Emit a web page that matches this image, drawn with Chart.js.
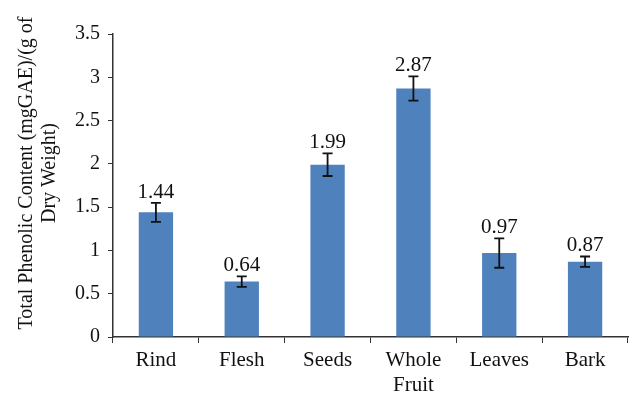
<!DOCTYPE html>
<html>
<head>
<meta charset="utf-8">
<script src="https://cdn.jsdelivr.net/npm/chart.js"></script>
<style>
  html, body { margin: 0; padding: 0; background: #fff; }
  #wrap { width: 643px; height: 401px; }
</style>
</head>
<body>
<div id="wrap"><canvas id="grafico"></canvas></div>
<script>
// dados
const categorias = ['Rind', 'Flesh', 'Seeds', ['Whole', 'Fruit'], 'Leaves', 'Bark'];
const valores = [1.44, 0.64, 1.99, 2.87, 0.97, 0.87];
const erros = [0.11, 0.06, 0.13, 0.14, 0.17, 0.06];
const rotulos = ['1.44', '0.64', '1.99', '2.87', '0.97', '0.87'];
const tituloY = ['Total Phenolic Content (mgGAE)/(g of', 'Dry Weight)'];
const eixoY = { min: 0, max: 3.5, passo: 0.5 };

const serif = "'Liberation Serif', 'DejaVu Serif', serif";

// barras de erro + valores acima
const errosPlugin = {
  id: 'errosPlugin',
  afterDatasetsDraw(chart) {
    const ctx = chart.ctx;
    const meta = chart.getDatasetMeta(0);
    const y = chart.scales.y;
    ctx.save();
    ctx.strokeStyle = '#111';
    ctx.lineWidth = 1.8;
    meta.data.forEach((bar, i) => {
      const topo = y.getPixelForValue(valores[i] + erros[i]);
      const base = y.getPixelForValue(valores[i] - erros[i]);
      ctx.beginPath();
      ctx.moveTo(bar.x, topo); ctx.lineTo(bar.x, base);
      ctx.moveTo(bar.x - 5, topo); ctx.lineTo(bar.x + 5, topo);
      ctx.moveTo(bar.x - 5, base); ctx.lineTo(bar.x + 5, base);
      ctx.stroke();
      ctx.fillStyle = '#111';
      ctx.font = '21px ' + serif;
      ctx.textAlign = 'center';
      ctx.textBaseline = 'alphabetic';
      ctx.fillText(rotulos[i], bar.x, topo - 5);
    });
    ctx.restore();
  }
};

// título do eixo Y em duas linhas
const tituloPlugin = {
  id: 'tituloPlugin',
  afterDraw(chart) {
    const ctx = chart.ctx;
    ctx.save();
    ctx.translate(0, 173);
    ctx.rotate(-Math.PI / 2);
    ctx.fillStyle = '#111';
    ctx.font = '20px ' + serif;
    ctx.textAlign = 'center';
    ctx.textBaseline = 'middle';
    tituloY.forEach((linha, i) => ctx.fillText(linha, 0, 27 + i * 23));
    ctx.restore();
  }
};

new Chart(document.getElementById('grafico'), {
  type: 'bar',
  data: {
    labels: categorias,
    datasets: [{
      data: valores,
      backgroundColor: '#4F81BD',
      borderWidth: 0,
      barPercentage: 0.4,
      categoryPercentage: 1
    }]
  },
  options: {
    responsive: true,
    maintainAspectRatio: false,
    animation: false,
    layout: { padding: { top: 34, right: 15, left: 0, bottom: 0 } },
    plugins: { legend: { display: false }, tooltip: { enabled: false } },
    scales: {
      x: {
        afterFit: (s) => { s.height = 64; },
        grid: { drawOnChartArea: false, drawTicks: true, tickLength: 6, color: '#333', offset: true },
        border: { display: true, color: '#333', width: 1.5 },
        ticks: { color: '#111', font: { family: serif, size: 21 }, padding: 5, maxRotation: 0 }
      },
      y: {
        min: eixoY.min,
        max: eixoY.max,
        afterFit: (s) => { s.width = 113; },
        grid: { drawOnChartArea: false, drawTicks: true, tickLength: 5, color: '#333' },
        border: { display: true, color: '#333', width: 1.5 },
        ticks: {
          stepSize: eixoY.passo,
          color: '#111',
          font: { family: serif, size: 20 },
          padding: 8,
          callback: (v) => String(v)
        }
      }
    }
  },
  plugins: [errosPlugin, tituloPlugin]
});
</script>
</body>
</html>
